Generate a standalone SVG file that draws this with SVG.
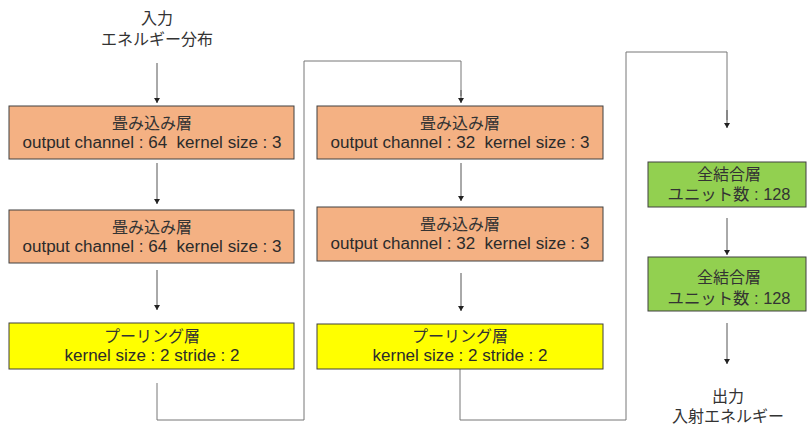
<svg xmlns="http://www.w3.org/2000/svg" width="808" height="425" viewBox="0 0 808 425">
<defs>
<marker id="ah" markerWidth="6" markerHeight="6" refX="5" refY="3" orient="auto" markerUnits="userSpaceOnUse">
<path d="M0,0 L5,3 L0,6 Z" fill="#222"/>
</marker>
<style>
.t{font-family:"Liberation Sans","Noto Sans CJK JP",sans-serif;font-size:16px;fill:#2b2b2b;text-anchor:middle;white-space:pre}
.j{font-family:"Liberation Sans","Noto Sans CJK JP",sans-serif;font-size:16px;fill:#333;text-anchor:middle}
.conv{fill:#F4B183;stroke:#404040;stroke-width:1}
.pool{fill:#FFFF00;stroke:#404040;stroke-width:1}
.fc{fill:#92D050;stroke:#404040;stroke-width:1}
.c{fill:none;stroke:#777;stroke-width:1}
.a{fill:none;stroke:#555;stroke-width:1;marker-end:url(#ah)}
</style>
</defs>
<rect width="808" height="425" fill="#fff"/>
<g id="connectors">
<line class="a" x1="157" y1="63" x2="157" y2="103"/>
<line class="a" x1="157" y1="163" x2="157" y2="204"/>
<line class="a" x1="157" y1="270" x2="157" y2="310"/>
<polyline class="c" points="157,383 157,420 304,420 304,61 461,61 461,96"/>
<line class="a" x1="461" y1="90" x2="461" y2="103"/>
<line class="a" x1="461" y1="163" x2="461" y2="201"/>
<line class="a" x1="461" y1="273" x2="461" y2="311"/>
<polyline class="c" points="460,369 460,420 626,420 626,52 727,52 727,120"/>
<line class="a" x1="727" y1="110" x2="727" y2="128"/>
<line class="a" x1="727" y1="218" x2="727" y2="255"/>
<line class="a" x1="727" y1="323" x2="727" y2="364"/>
</g>
<g id="input">
<text class="j" x="157" y="24">入力</text>
<text class="j" x="157" y="45">エネルギー分布</text>
</g>
<g id="conv1">
<rect class="conv" x="9" y="106" width="285" height="53"/>
<text class="j" x="152" y="129">畳み込み層</text>
<text class="t" x="152" y="148" textLength="259" lengthAdjust="spacingAndGlyphs">output channel : 64  kernel size : 3</text>
</g>
<g id="conv2">
<rect class="conv" x="9" y="210" width="285" height="53"/>
<text class="j" x="152" y="233">畳み込み層</text>
<text class="t" x="152" y="252" textLength="259" lengthAdjust="spacingAndGlyphs">output channel : 64  kernel size : 3</text>
</g>
<g id="pool1">
<rect class="pool" x="9" y="323" width="285" height="46"/>
<text class="j" x="152" y="342">プーリング層</text>
<text class="t" x="152" y="361" textLength="175" lengthAdjust="spacingAndGlyphs">kernel size : 2 stride : 2</text>
</g>
<g id="conv3">
<rect class="conv" x="317" y="106" width="286" height="53"/>
<text class="j" x="460" y="129">畳み込み層</text>
<text class="t" x="460" y="148" textLength="259" lengthAdjust="spacingAndGlyphs">output channel : 32  kernel size : 3</text>
</g>
<g id="conv4">
<rect class="conv" x="317" y="207" width="286" height="54"/>
<text class="j" x="460" y="230">畳み込み層</text>
<text class="t" x="460" y="249" textLength="259" lengthAdjust="spacingAndGlyphs">output channel : 32  kernel size : 3</text>
</g>
<g id="pool2">
<rect class="pool" x="317" y="324" width="286" height="45"/>
<text class="j" x="460" y="342">プーリング層</text>
<text class="t" x="460" y="361" textLength="175" lengthAdjust="spacingAndGlyphs">kernel size : 2 stride : 2</text>
</g>
<g id="fc1">
<rect class="fc" x="648" y="162" width="158" height="45"/>
<text class="j" x="729" y="180">全結合層</text>
<text class="j" x="729" y="200" textLength="123" lengthAdjust="spacingAndGlyphs">ユニット数 : 128</text>
</g>
<g id="fc2">
<rect class="fc" x="648" y="257" width="158" height="54"/>
<text class="j" x="729" y="283">全結合層</text>
<text class="j" x="729" y="304" textLength="123" lengthAdjust="spacingAndGlyphs">ユニット数 : 128</text>
</g>
<g id="output">
<text class="j" x="728" y="402">出力</text>
<text class="j" x="728" y="421.5">入射エネルギー</text>
</g>
</svg>
